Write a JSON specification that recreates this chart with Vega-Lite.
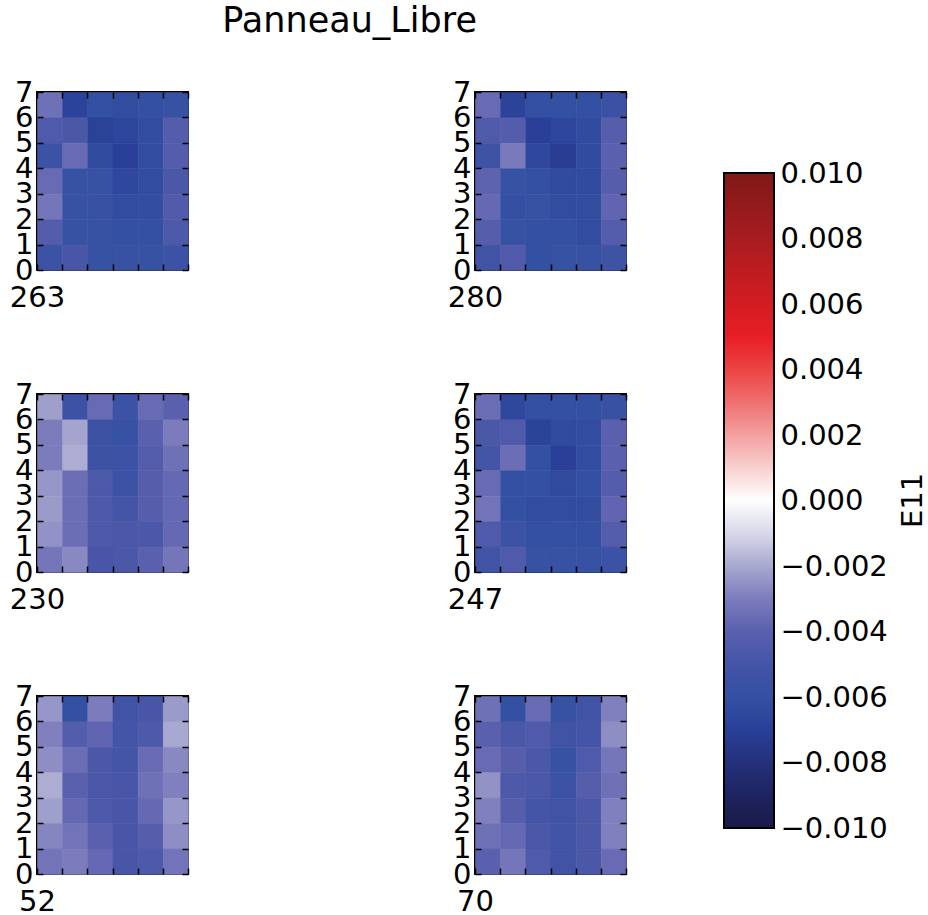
{
"$schema":"https://vega.github.io/schema/vega-lite/v6.json",
"padding":{"left":8,"top":4,"right":0,"bottom":0},
"config":{"font":"DejaVu Sans","view":{"stroke":"black","strokeWidth":2},"legend":{"disable":true},"rect":{"binSpacing":0},
 "axis":{"labelFontSize":29,"labelColor":"black","tickColor":"black","tickWidth":1.5,"tickSize":-6,"domain":false,"grid":false,"labelOverlap":false,"labelFlush":false,"labelBound":false,"titleFontSize":29,"titleFontWeight":"normal","titleColor":"black","labelPadding":10},
 "axisTop":{"labels":false,"title":null},"axisBottom":{"labels":false,"titleX":0,"titleY":36,"titleAlign":"center","titleBaseline":"alphabetic"},"axisRight":{"labels":false,"title":null}},
"title":{"text":"Panneau_Libre","fontSize":35,"fontWeight":"normal","color":"black","anchor":"start","dx":214,"offset":38},
"datasets":{"cells":[
{"p":"263","c":0,"r":6,"v":-0.0034},{"p":"263","c":1,"r":6,"v":-0.0068},{"p":"263","c":2,"r":6,"v":-0.006},{"p":"263","c":3,"r":6,"v":-0.0062},{"p":"263","c":4,"r":6,"v":-0.006},{"p":"263","c":5,"r":6,"v":-0.0058},
{"p":"263","c":0,"r":5,"v":-0.0045},{"p":"263","c":1,"r":5,"v":-0.0047},{"p":"263","c":2,"r":5,"v":-0.0069},{"p":"263","c":3,"r":5,"v":-0.0066},{"p":"263","c":4,"r":5,"v":-0.0062},{"p":"263","c":5,"r":5,"v":-0.0043},
{"p":"263","c":0,"r":4,"v":-0.0055},{"p":"263","c":1,"r":4,"v":-0.0036},{"p":"263","c":2,"r":4,"v":-0.0063},{"p":"263","c":3,"r":4,"v":-0.007},{"p":"263","c":4,"r":4,"v":-0.0062},{"p":"263","c":5,"r":4,"v":-0.0043},
{"p":"263","c":0,"r":3,"v":-0.0036},{"p":"263","c":1,"r":3,"v":-0.0058},{"p":"263","c":2,"r":3,"v":-0.0058},{"p":"263","c":3,"r":3,"v":-0.0065},{"p":"263","c":4,"r":3,"v":-0.0062},{"p":"263","c":5,"r":3,"v":-0.0047},
{"p":"263","c":0,"r":2,"v":-0.0032},{"p":"263","c":1,"r":2,"v":-0.0058},{"p":"263","c":2,"r":2,"v":-0.0057},{"p":"263","c":3,"r":2,"v":-0.0062},{"p":"263","c":4,"r":2,"v":-0.0061},{"p":"263","c":5,"r":2,"v":-0.0044},
{"p":"263","c":0,"r":1,"v":-0.0043},{"p":"263","c":1,"r":1,"v":-0.0058},{"p":"263","c":2,"r":1,"v":-0.0058},{"p":"263","c":3,"r":1,"v":-0.006},{"p":"263","c":4,"r":1,"v":-0.006},{"p":"263","c":5,"r":1,"v":-0.0046},
{"p":"263","c":0,"r":0,"v":-0.0055},{"p":"263","c":1,"r":0,"v":-0.0048},{"p":"263","c":2,"r":0,"v":-0.0058},{"p":"263","c":3,"r":0,"v":-0.0058},{"p":"263","c":4,"r":0,"v":-0.0058},{"p":"263","c":5,"r":0,"v":-0.0055},
{"p":"280","c":0,"r":6,"v":-0.0036},{"p":"280","c":1,"r":6,"v":-0.0068},{"p":"280","c":2,"r":6,"v":-0.006},{"p":"280","c":3,"r":6,"v":-0.006},{"p":"280","c":4,"r":6,"v":-0.006},{"p":"280","c":5,"r":6,"v":-0.0056},
{"p":"280","c":0,"r":5,"v":-0.0045},{"p":"280","c":1,"r":5,"v":-0.0043},{"p":"280","c":2,"r":5,"v":-0.007},{"p":"280","c":3,"r":5,"v":-0.0066},{"p":"280","c":4,"r":5,"v":-0.0063},{"p":"280","c":5,"r":5,"v":-0.0042},
{"p":"280","c":0,"r":4,"v":-0.0053},{"p":"280","c":1,"r":4,"v":-0.0031},{"p":"280","c":2,"r":4,"v":-0.0065},{"p":"280","c":3,"r":4,"v":-0.0072},{"p":"280","c":4,"r":4,"v":-0.0063},{"p":"280","c":5,"r":4,"v":-0.004},
{"p":"280","c":0,"r":3,"v":-0.0039},{"p":"280","c":1,"r":3,"v":-0.0058},{"p":"280","c":2,"r":3,"v":-0.006},{"p":"280","c":3,"r":3,"v":-0.0063},{"p":"280","c":4,"r":3,"v":-0.0063},{"p":"280","c":5,"r":3,"v":-0.0042},
{"p":"280","c":0,"r":2,"v":-0.0037},{"p":"280","c":1,"r":2,"v":-0.006},{"p":"280","c":2,"r":2,"v":-0.0058},{"p":"280","c":3,"r":2,"v":-0.0062},{"p":"280","c":4,"r":2,"v":-0.0062},{"p":"280","c":5,"r":2,"v":-0.0038},
{"p":"280","c":0,"r":1,"v":-0.0042},{"p":"280","c":1,"r":1,"v":-0.0058},{"p":"280","c":2,"r":1,"v":-0.006},{"p":"280","c":3,"r":1,"v":-0.006},{"p":"280","c":4,"r":1,"v":-0.0062},{"p":"280","c":5,"r":1,"v":-0.0043},
{"p":"280","c":0,"r":0,"v":-0.0052},{"p":"280","c":1,"r":0,"v":-0.0045},{"p":"280","c":2,"r":0,"v":-0.006},{"p":"280","c":3,"r":0,"v":-0.0058},{"p":"280","c":4,"r":0,"v":-0.0058},{"p":"280","c":5,"r":0,"v":-0.0053},
{"p":"230","c":0,"r":6,"v":-0.0022},{"p":"230","c":1,"r":6,"v":-0.0055},{"p":"230","c":2,"r":6,"v":-0.0036},{"p":"230","c":3,"r":6,"v":-0.0055},{"p":"230","c":4,"r":6,"v":-0.0036},{"p":"230","c":5,"r":6,"v":-0.004},
{"p":"230","c":0,"r":5,"v":-0.003},{"p":"230","c":1,"r":5,"v":-0.0021},{"p":"230","c":2,"r":5,"v":-0.0054},{"p":"230","c":3,"r":5,"v":-0.0058},{"p":"230","c":4,"r":5,"v":-0.004},{"p":"230","c":5,"r":5,"v":-0.003},
{"p":"230","c":0,"r":4,"v":-0.003},{"p":"230","c":1,"r":4,"v":-0.0019},{"p":"230","c":2,"r":4,"v":-0.0054},{"p":"230","c":3,"r":4,"v":-0.0055},{"p":"230","c":4,"r":4,"v":-0.0043},{"p":"230","c":5,"r":4,"v":-0.0034},
{"p":"230","c":0,"r":3,"v":-0.0024},{"p":"230","c":1,"r":3,"v":-0.0035},{"p":"230","c":2,"r":3,"v":-0.0046},{"p":"230","c":3,"r":3,"v":-0.0055},{"p":"230","c":4,"r":3,"v":-0.0042},{"p":"230","c":5,"r":3,"v":-0.0037},
{"p":"230","c":0,"r":2,"v":-0.0023},{"p":"230","c":1,"r":2,"v":-0.0035},{"p":"230","c":2,"r":2,"v":-0.0046},{"p":"230","c":3,"r":2,"v":-0.005},{"p":"230","c":4,"r":2,"v":-0.0042},{"p":"230","c":5,"r":2,"v":-0.0037},
{"p":"230","c":0,"r":1,"v":-0.0025},{"p":"230","c":1,"r":1,"v":-0.0035},{"p":"230","c":2,"r":1,"v":-0.0046},{"p":"230","c":3,"r":1,"v":-0.0047},{"p":"230","c":4,"r":1,"v":-0.0047},{"p":"230","c":5,"r":1,"v":-0.0037},
{"p":"230","c":0,"r":0,"v":-0.0032},{"p":"230","c":1,"r":0,"v":-0.0027},{"p":"230","c":2,"r":0,"v":-0.0048},{"p":"230","c":3,"r":0,"v":-0.0047},{"p":"230","c":4,"r":0,"v":-0.004},{"p":"230","c":5,"r":0,"v":-0.0032},
{"p":"247","c":0,"r":6,"v":-0.0035},{"p":"247","c":1,"r":6,"v":-0.0065},{"p":"247","c":2,"r":6,"v":-0.006},{"p":"247","c":3,"r":6,"v":-0.006},{"p":"247","c":4,"r":6,"v":-0.006},{"p":"247","c":5,"r":6,"v":-0.0057},
{"p":"247","c":0,"r":5,"v":-0.0047},{"p":"247","c":1,"r":5,"v":-0.0045},{"p":"247","c":2,"r":5,"v":-0.0068},{"p":"247","c":3,"r":5,"v":-0.0063},{"p":"247","c":4,"r":5,"v":-0.0062},{"p":"247","c":5,"r":5,"v":-0.004},
{"p":"247","c":0,"r":4,"v":-0.005},{"p":"247","c":1,"r":4,"v":-0.0035},{"p":"247","c":2,"r":4,"v":-0.006},{"p":"247","c":3,"r":4,"v":-0.007},{"p":"247","c":4,"r":4,"v":-0.0062},{"p":"247","c":5,"r":4,"v":-0.004},
{"p":"247","c":0,"r":3,"v":-0.0036},{"p":"247","c":1,"r":3,"v":-0.006},{"p":"247","c":2,"r":3,"v":-0.006},{"p":"247","c":3,"r":3,"v":-0.0063},{"p":"247","c":4,"r":3,"v":-0.006},{"p":"247","c":5,"r":3,"v":-0.0043},
{"p":"247","c":0,"r":2,"v":-0.0033},{"p":"247","c":1,"r":2,"v":-0.006},{"p":"247","c":2,"r":2,"v":-0.0062},{"p":"247","c":3,"r":2,"v":-0.0062},{"p":"247","c":4,"r":2,"v":-0.0062},{"p":"247","c":5,"r":2,"v":-0.0038},
{"p":"247","c":0,"r":1,"v":-0.0045},{"p":"247","c":1,"r":1,"v":-0.0055},{"p":"247","c":2,"r":1,"v":-0.006},{"p":"247","c":3,"r":1,"v":-0.006},{"p":"247","c":4,"r":1,"v":-0.006},{"p":"247","c":5,"r":1,"v":-0.0043},
{"p":"247","c":0,"r":0,"v":-0.0052},{"p":"247","c":1,"r":0,"v":-0.0045},{"p":"247","c":2,"r":0,"v":-0.0058},{"p":"247","c":3,"r":0,"v":-0.0058},{"p":"247","c":4,"r":0,"v":-0.0058},{"p":"247","c":5,"r":0,"v":-0.0055},
{"p":"52","c":0,"r":6,"v":-0.0024},{"p":"52","c":1,"r":6,"v":-0.006},{"p":"52","c":2,"r":6,"v":-0.003},{"p":"52","c":3,"r":6,"v":-0.0052},{"p":"52","c":4,"r":6,"v":-0.0048},{"p":"52","c":5,"r":6,"v":-0.0023},
{"p":"52","c":0,"r":5,"v":-0.0029},{"p":"52","c":1,"r":5,"v":-0.0043},{"p":"52","c":2,"r":5,"v":-0.0038},{"p":"52","c":3,"r":5,"v":-0.005},{"p":"52","c":4,"r":5,"v":-0.0046},{"p":"52","c":5,"r":5,"v":-0.002},
{"p":"52","c":0,"r":4,"v":-0.0026},{"p":"52","c":1,"r":4,"v":-0.0035},{"p":"52","c":2,"r":4,"v":-0.0047},{"p":"52","c":3,"r":4,"v":-0.005},{"p":"52","c":4,"r":4,"v":-0.0036},{"p":"52","c":5,"r":4,"v":-0.0027},
{"p":"52","c":0,"r":3,"v":-0.0019},{"p":"52","c":1,"r":3,"v":-0.004},{"p":"52","c":2,"r":3,"v":-0.0047},{"p":"52","c":3,"r":3,"v":-0.0048},{"p":"52","c":4,"r":3,"v":-0.0034},{"p":"52","c":5,"r":3,"v":-0.0029},
{"p":"52","c":0,"r":2,"v":-0.0022},{"p":"52","c":1,"r":2,"v":-0.0037},{"p":"52","c":2,"r":2,"v":-0.0046},{"p":"52","c":3,"r":2,"v":-0.0048},{"p":"52","c":4,"r":2,"v":-0.0037},{"p":"52","c":5,"r":2,"v":-0.0024},
{"p":"52","c":0,"r":1,"v":-0.0028},{"p":"52","c":1,"r":1,"v":-0.0033},{"p":"52","c":2,"r":1,"v":-0.004},{"p":"52","c":3,"r":1,"v":-0.0048},{"p":"52","c":4,"r":1,"v":-0.0042},{"p":"52","c":5,"r":1,"v":-0.0026},
{"p":"52","c":0,"r":0,"v":-0.0033},{"p":"52","c":1,"r":0,"v":-0.003},{"p":"52","c":2,"r":0,"v":-0.0037},{"p":"52","c":3,"r":0,"v":-0.0048},{"p":"52","c":4,"r":0,"v":-0.0046},{"p":"52","c":5,"r":0,"v":-0.0033},
{"p":"70","c":0,"r":6,"v":-0.0034},{"p":"70","c":1,"r":6,"v":-0.006},{"p":"70","c":2,"r":6,"v":-0.0036},{"p":"70","c":3,"r":6,"v":-0.0058},{"p":"70","c":4,"r":6,"v":-0.0052},{"p":"70","c":5,"r":6,"v":-0.0029},
{"p":"70","c":0,"r":5,"v":-0.004},{"p":"70","c":1,"r":5,"v":-0.0047},{"p":"70","c":2,"r":5,"v":-0.0045},{"p":"70","c":3,"r":5,"v":-0.0052},{"p":"70","c":4,"r":5,"v":-0.005},{"p":"70","c":5,"r":5,"v":-0.0026},
{"p":"70","c":0,"r":4,"v":-0.0036},{"p":"70","c":1,"r":4,"v":-0.0042},{"p":"70","c":2,"r":4,"v":-0.0047},{"p":"70","c":3,"r":4,"v":-0.0058},{"p":"70","c":4,"r":4,"v":-0.0045},{"p":"70","c":5,"r":4,"v":-0.0032},
{"p":"70","c":0,"r":3,"v":-0.0025},{"p":"70","c":1,"r":3,"v":-0.0046},{"p":"70","c":2,"r":3,"v":-0.0047},{"p":"70","c":3,"r":3,"v":-0.0055},{"p":"70","c":4,"r":3,"v":-0.0042},{"p":"70","c":5,"r":3,"v":-0.0034},
{"p":"70","c":0,"r":2,"v":-0.0029},{"p":"70","c":1,"r":2,"v":-0.0042},{"p":"70","c":2,"r":2,"v":-0.005},{"p":"70","c":3,"r":2,"v":-0.0052},{"p":"70","c":4,"r":2,"v":-0.0047},{"p":"70","c":5,"r":2,"v":-0.0029},
{"p":"70","c":0,"r":1,"v":-0.0034},{"p":"70","c":1,"r":1,"v":-0.0037},{"p":"70","c":2,"r":1,"v":-0.0047},{"p":"70","c":3,"r":1,"v":-0.0052},{"p":"70","c":4,"r":1,"v":-0.0047},{"p":"70","c":5,"r":1,"v":-0.0029},
{"p":"70","c":0,"r":0,"v":-0.004},{"p":"70","c":1,"r":0,"v":-0.0032},{"p":"70","c":2,"r":0,"v":-0.0045},{"p":"70","c":3,"r":0,"v":-0.0052},{"p":"70","c":4,"r":0,"v":-0.0047},{"p":"70","c":5,"r":0,"v":-0.0036}
]},
"data":{"name":"cells"},
"spacing":95,
"hconcat":[
{"spacing":256,"hconcat":[
 {"spacing":66,"vconcat":[
  {"width":151,"height":178,"transform":[{"filter":"datum.p==='263'"}],"layer":[
   {"mark":{"type":"rect","binSpacing":0,"strokeWidth":0.6},"encoding":{"x":{"field":"c","type":"quantitative","bin":{"binned":true,"step":1},"scale":{"domain":[0,6],"nice":false,"zero":false},"axis":{"orient":"bottom","values":[0,1,2,3,4,5,6],"title":"263"}},"y":{"field":"r","type":"quantitative","bin":{"binned":true,"step":1},"scale":{"domain":[0,7],"nice":false,"zero":false},"axis":{"orient":"left","values":[0,1,2,3,4,5,6,7],"title":null}},"color":{"field":"v","type":"quantitative","scale":{"domain":[-0.01,-0.009,-0.008,-0.007,-0.006,-0.005,-0.004,-0.003,-0.002,-0.001,0,0.001,0.002,0.003,0.004,0.005,0.006,0.007,0.008,0.009,0.01],"range":["#1a1a48","#1e2460","#25307a","#2a4098","#3450a2","#4454a6","#5a60ae","#7c7cbc","#a8a8d0","#d8d8ea","#ffffff","#f8d0d0","#f4a0a0","#ee7070","#ec4444","#e81e26","#d41c22","#be1c20","#a81c20","#941a1c","#801818"]}},"stroke":{"field":"v","type":"quantitative","scale":{"domain":[-0.01,-0.009,-0.008,-0.007,-0.006,-0.005,-0.004,-0.003,-0.002,-0.001,0,0.001,0.002,0.003,0.004,0.005,0.006,0.007,0.008,0.009,0.01],"range":["#1a1a48","#1e2460","#25307a","#2a4098","#3450a2","#4454a6","#5a60ae","#7c7cbc","#a8a8d0","#d8d8ea","#ffffff","#f8d0d0","#f4a0a0","#ee7070","#ec4444","#e81e26","#d41c22","#be1c20","#a81c20","#941a1c","#801818"]}}}},
   {"mark":{"type":"rect","opacity":0},"encoding":{"x":{"field":"c","type":"quantitative","bin":{"binned":true,"step":1},"scale":{"domain":[0,6],"nice":false,"zero":false},"axis":{"orient":"top","values":[0,1,2,3,4,5,6]}},"y":{"field":"r","type":"quantitative","bin":{"binned":true,"step":1},"scale":{"domain":[0,7],"nice":false,"zero":false},"axis":{"orient":"right","values":[0,1,2,3,4,5,6,7]}}}}
  ],"resolve":{"axis":{"x":"independent","y":"independent"}}},
  {"width":151,"height":178,"transform":[{"filter":"datum.p==='230'"}],"layer":[
   {"mark":{"type":"rect","binSpacing":0,"strokeWidth":0.6},"encoding":{"x":{"field":"c","type":"quantitative","bin":{"binned":true,"step":1},"scale":{"domain":[0,6],"nice":false,"zero":false},"axis":{"orient":"bottom","values":[0,1,2,3,4,5,6],"title":"230"}},"y":{"field":"r","type":"quantitative","bin":{"binned":true,"step":1},"scale":{"domain":[0,7],"nice":false,"zero":false},"axis":{"orient":"left","values":[0,1,2,3,4,5,6,7],"title":null}},"color":{"field":"v","type":"quantitative","scale":{"domain":[-0.01,-0.009,-0.008,-0.007,-0.006,-0.005,-0.004,-0.003,-0.002,-0.001,0,0.001,0.002,0.003,0.004,0.005,0.006,0.007,0.008,0.009,0.01],"range":["#1a1a48","#1e2460","#25307a","#2a4098","#3450a2","#4454a6","#5a60ae","#7c7cbc","#a8a8d0","#d8d8ea","#ffffff","#f8d0d0","#f4a0a0","#ee7070","#ec4444","#e81e26","#d41c22","#be1c20","#a81c20","#941a1c","#801818"]}},"stroke":{"field":"v","type":"quantitative","scale":{"domain":[-0.01,-0.009,-0.008,-0.007,-0.006,-0.005,-0.004,-0.003,-0.002,-0.001,0,0.001,0.002,0.003,0.004,0.005,0.006,0.007,0.008,0.009,0.01],"range":["#1a1a48","#1e2460","#25307a","#2a4098","#3450a2","#4454a6","#5a60ae","#7c7cbc","#a8a8d0","#d8d8ea","#ffffff","#f8d0d0","#f4a0a0","#ee7070","#ec4444","#e81e26","#d41c22","#be1c20","#a81c20","#941a1c","#801818"]}}}},
   {"mark":{"type":"rect","opacity":0},"encoding":{"x":{"field":"c","type":"quantitative","bin":{"binned":true,"step":1},"scale":{"domain":[0,6],"nice":false,"zero":false},"axis":{"orient":"top","values":[0,1,2,3,4,5,6]}},"y":{"field":"r","type":"quantitative","bin":{"binned":true,"step":1},"scale":{"domain":[0,7],"nice":false,"zero":false},"axis":{"orient":"right","values":[0,1,2,3,4,5,6,7]}}}}
  ],"resolve":{"axis":{"x":"independent","y":"independent"}}},
  {"width":151,"height":178,"transform":[{"filter":"datum.p==='52'"}],"layer":[
   {"mark":{"type":"rect","binSpacing":0,"strokeWidth":0.6},"encoding":{"x":{"field":"c","type":"quantitative","bin":{"binned":true,"step":1},"scale":{"domain":[0,6],"nice":false,"zero":false},"axis":{"orient":"bottom","values":[0,1,2,3,4,5,6],"title":"52"}},"y":{"field":"r","type":"quantitative","bin":{"binned":true,"step":1},"scale":{"domain":[0,7],"nice":false,"zero":false},"axis":{"orient":"left","values":[0,1,2,3,4,5,6,7],"title":null}},"color":{"field":"v","type":"quantitative","scale":{"domain":[-0.01,-0.009,-0.008,-0.007,-0.006,-0.005,-0.004,-0.003,-0.002,-0.001,0,0.001,0.002,0.003,0.004,0.005,0.006,0.007,0.008,0.009,0.01],"range":["#1a1a48","#1e2460","#25307a","#2a4098","#3450a2","#4454a6","#5a60ae","#7c7cbc","#a8a8d0","#d8d8ea","#ffffff","#f8d0d0","#f4a0a0","#ee7070","#ec4444","#e81e26","#d41c22","#be1c20","#a81c20","#941a1c","#801818"]}},"stroke":{"field":"v","type":"quantitative","scale":{"domain":[-0.01,-0.009,-0.008,-0.007,-0.006,-0.005,-0.004,-0.003,-0.002,-0.001,0,0.001,0.002,0.003,0.004,0.005,0.006,0.007,0.008,0.009,0.01],"range":["#1a1a48","#1e2460","#25307a","#2a4098","#3450a2","#4454a6","#5a60ae","#7c7cbc","#a8a8d0","#d8d8ea","#ffffff","#f8d0d0","#f4a0a0","#ee7070","#ec4444","#e81e26","#d41c22","#be1c20","#a81c20","#941a1c","#801818"]}}}},
   {"mark":{"type":"rect","opacity":0},"encoding":{"x":{"field":"c","type":"quantitative","bin":{"binned":true,"step":1},"scale":{"domain":[0,6],"nice":false,"zero":false},"axis":{"orient":"top","values":[0,1,2,3,4,5,6]}},"y":{"field":"r","type":"quantitative","bin":{"binned":true,"step":1},"scale":{"domain":[0,7],"nice":false,"zero":false},"axis":{"orient":"right","values":[0,1,2,3,4,5,6,7]}}}}
  ],"resolve":{"axis":{"x":"independent","y":"independent"}}}
 ]},
 {"spacing":66,"vconcat":[
  {"width":151,"height":178,"transform":[{"filter":"datum.p==='280'"}],"layer":[
   {"mark":{"type":"rect","binSpacing":0,"strokeWidth":0.6},"encoding":{"x":{"field":"c","type":"quantitative","bin":{"binned":true,"step":1},"scale":{"domain":[0,6],"nice":false,"zero":false},"axis":{"orient":"bottom","values":[0,1,2,3,4,5,6],"title":"280"}},"y":{"field":"r","type":"quantitative","bin":{"binned":true,"step":1},"scale":{"domain":[0,7],"nice":false,"zero":false},"axis":{"orient":"left","values":[0,1,2,3,4,5,6,7],"title":null}},"color":{"field":"v","type":"quantitative","scale":{"domain":[-0.01,-0.009,-0.008,-0.007,-0.006,-0.005,-0.004,-0.003,-0.002,-0.001,0,0.001,0.002,0.003,0.004,0.005,0.006,0.007,0.008,0.009,0.01],"range":["#1a1a48","#1e2460","#25307a","#2a4098","#3450a2","#4454a6","#5a60ae","#7c7cbc","#a8a8d0","#d8d8ea","#ffffff","#f8d0d0","#f4a0a0","#ee7070","#ec4444","#e81e26","#d41c22","#be1c20","#a81c20","#941a1c","#801818"]}},"stroke":{"field":"v","type":"quantitative","scale":{"domain":[-0.01,-0.009,-0.008,-0.007,-0.006,-0.005,-0.004,-0.003,-0.002,-0.001,0,0.001,0.002,0.003,0.004,0.005,0.006,0.007,0.008,0.009,0.01],"range":["#1a1a48","#1e2460","#25307a","#2a4098","#3450a2","#4454a6","#5a60ae","#7c7cbc","#a8a8d0","#d8d8ea","#ffffff","#f8d0d0","#f4a0a0","#ee7070","#ec4444","#e81e26","#d41c22","#be1c20","#a81c20","#941a1c","#801818"]}}}},
   {"mark":{"type":"rect","opacity":0},"encoding":{"x":{"field":"c","type":"quantitative","bin":{"binned":true,"step":1},"scale":{"domain":[0,6],"nice":false,"zero":false},"axis":{"orient":"top","values":[0,1,2,3,4,5,6]}},"y":{"field":"r","type":"quantitative","bin":{"binned":true,"step":1},"scale":{"domain":[0,7],"nice":false,"zero":false},"axis":{"orient":"right","values":[0,1,2,3,4,5,6,7]}}}}
  ],"resolve":{"axis":{"x":"independent","y":"independent"}}},
  {"width":151,"height":178,"transform":[{"filter":"datum.p==='247'"}],"layer":[
   {"mark":{"type":"rect","binSpacing":0,"strokeWidth":0.6},"encoding":{"x":{"field":"c","type":"quantitative","bin":{"binned":true,"step":1},"scale":{"domain":[0,6],"nice":false,"zero":false},"axis":{"orient":"bottom","values":[0,1,2,3,4,5,6],"title":"247"}},"y":{"field":"r","type":"quantitative","bin":{"binned":true,"step":1},"scale":{"domain":[0,7],"nice":false,"zero":false},"axis":{"orient":"left","values":[0,1,2,3,4,5,6,7],"title":null}},"color":{"field":"v","type":"quantitative","scale":{"domain":[-0.01,-0.009,-0.008,-0.007,-0.006,-0.005,-0.004,-0.003,-0.002,-0.001,0,0.001,0.002,0.003,0.004,0.005,0.006,0.007,0.008,0.009,0.01],"range":["#1a1a48","#1e2460","#25307a","#2a4098","#3450a2","#4454a6","#5a60ae","#7c7cbc","#a8a8d0","#d8d8ea","#ffffff","#f8d0d0","#f4a0a0","#ee7070","#ec4444","#e81e26","#d41c22","#be1c20","#a81c20","#941a1c","#801818"]}},"stroke":{"field":"v","type":"quantitative","scale":{"domain":[-0.01,-0.009,-0.008,-0.007,-0.006,-0.005,-0.004,-0.003,-0.002,-0.001,0,0.001,0.002,0.003,0.004,0.005,0.006,0.007,0.008,0.009,0.01],"range":["#1a1a48","#1e2460","#25307a","#2a4098","#3450a2","#4454a6","#5a60ae","#7c7cbc","#a8a8d0","#d8d8ea","#ffffff","#f8d0d0","#f4a0a0","#ee7070","#ec4444","#e81e26","#d41c22","#be1c20","#a81c20","#941a1c","#801818"]}}}},
   {"mark":{"type":"rect","opacity":0},"encoding":{"x":{"field":"c","type":"quantitative","bin":{"binned":true,"step":1},"scale":{"domain":[0,6],"nice":false,"zero":false},"axis":{"orient":"top","values":[0,1,2,3,4,5,6]}},"y":{"field":"r","type":"quantitative","bin":{"binned":true,"step":1},"scale":{"domain":[0,7],"nice":false,"zero":false},"axis":{"orient":"right","values":[0,1,2,3,4,5,6,7]}}}}
  ],"resolve":{"axis":{"x":"independent","y":"independent"}}},
  {"width":151,"height":178,"transform":[{"filter":"datum.p==='70'"}],"layer":[
   {"mark":{"type":"rect","binSpacing":0,"strokeWidth":0.6},"encoding":{"x":{"field":"c","type":"quantitative","bin":{"binned":true,"step":1},"scale":{"domain":[0,6],"nice":false,"zero":false},"axis":{"orient":"bottom","values":[0,1,2,3,4,5,6],"title":"70"}},"y":{"field":"r","type":"quantitative","bin":{"binned":true,"step":1},"scale":{"domain":[0,7],"nice":false,"zero":false},"axis":{"orient":"left","values":[0,1,2,3,4,5,6,7],"title":null}},"color":{"field":"v","type":"quantitative","scale":{"domain":[-0.01,-0.009,-0.008,-0.007,-0.006,-0.005,-0.004,-0.003,-0.002,-0.001,0,0.001,0.002,0.003,0.004,0.005,0.006,0.007,0.008,0.009,0.01],"range":["#1a1a48","#1e2460","#25307a","#2a4098","#3450a2","#4454a6","#5a60ae","#7c7cbc","#a8a8d0","#d8d8ea","#ffffff","#f8d0d0","#f4a0a0","#ee7070","#ec4444","#e81e26","#d41c22","#be1c20","#a81c20","#941a1c","#801818"]}},"stroke":{"field":"v","type":"quantitative","scale":{"domain":[-0.01,-0.009,-0.008,-0.007,-0.006,-0.005,-0.004,-0.003,-0.002,-0.001,0,0.001,0.002,0.003,0.004,0.005,0.006,0.007,0.008,0.009,0.01],"range":["#1a1a48","#1e2460","#25307a","#2a4098","#3450a2","#4454a6","#5a60ae","#7c7cbc","#a8a8d0","#d8d8ea","#ffffff","#f8d0d0","#f4a0a0","#ee7070","#ec4444","#e81e26","#d41c22","#be1c20","#a81c20","#941a1c","#801818"]}}}},
   {"mark":{"type":"rect","opacity":0},"encoding":{"x":{"field":"c","type":"quantitative","bin":{"binned":true,"step":1},"scale":{"domain":[0,6],"nice":false,"zero":false},"axis":{"orient":"top","values":[0,1,2,3,4,5,6]}},"y":{"field":"r","type":"quantitative","bin":{"binned":true,"step":1},"scale":{"domain":[0,7],"nice":false,"zero":false},"axis":{"orient":"right","values":[0,1,2,3,4,5,6,7]}}}}
  ],"resolve":{"axis":{"x":"independent","y":"independent"}}}
 ]}
]},
{"width":50,"height":770,"view":{"stroke":null},
 "data":{"values":[{"lo":-0.01,"hi":0.01}]},
 "mark":{"type":"rect","stroke":"black","strokeWidth":2},
 "encoding":{
  "y":{"field":"lo","type":"quantitative","scale":{"domain":[-0.01,0.01],"range":[736,81],"nice":false,"zero":false},"axis":{"orient":"right","values":[-0.01,-0.008,-0.006,-0.004,-0.002,0,0.002,0.004,0.006,0.008,0.01],"format":".3f","labels":true,"title":"E11","titleAngle":-90,"titleX":138,"titleY":408,"titleAlign":"center","titleBaseline":"middle","tickSize":-8,"labelPadding":14,"tickWidth":1}},
  "y2":{"field":"hi"},
  "color":{"value":{"gradient":"linear","x1":0,"y1":1,"x2":0,"y2":0,"stops":[{"offset":0,"color":"#1a1a48"},{"offset":0.05,"color":"#1e2460"},{"offset":0.1,"color":"#25307a"},{"offset":0.15,"color":"#2a4098"},{"offset":0.2,"color":"#3450a2"},{"offset":0.25,"color":"#4454a6"},{"offset":0.3,"color":"#5a60ae"},{"offset":0.35,"color":"#7c7cbc"},{"offset":0.4,"color":"#a8a8d0"},{"offset":0.45,"color":"#d8d8ea"},{"offset":0.5,"color":"#ffffff"},{"offset":0.55,"color":"#f8d0d0"},{"offset":0.6,"color":"#f4a0a0"},{"offset":0.65,"color":"#ee7070"},{"offset":0.7,"color":"#ec4444"},{"offset":0.75,"color":"#e81e26"},{"offset":0.8,"color":"#d41c22"},{"offset":0.85,"color":"#be1c20"},{"offset":0.9,"color":"#a81c20"},{"offset":0.95,"color":"#941a1c"},{"offset":1,"color":"#801818"}]}}}}
]
}
